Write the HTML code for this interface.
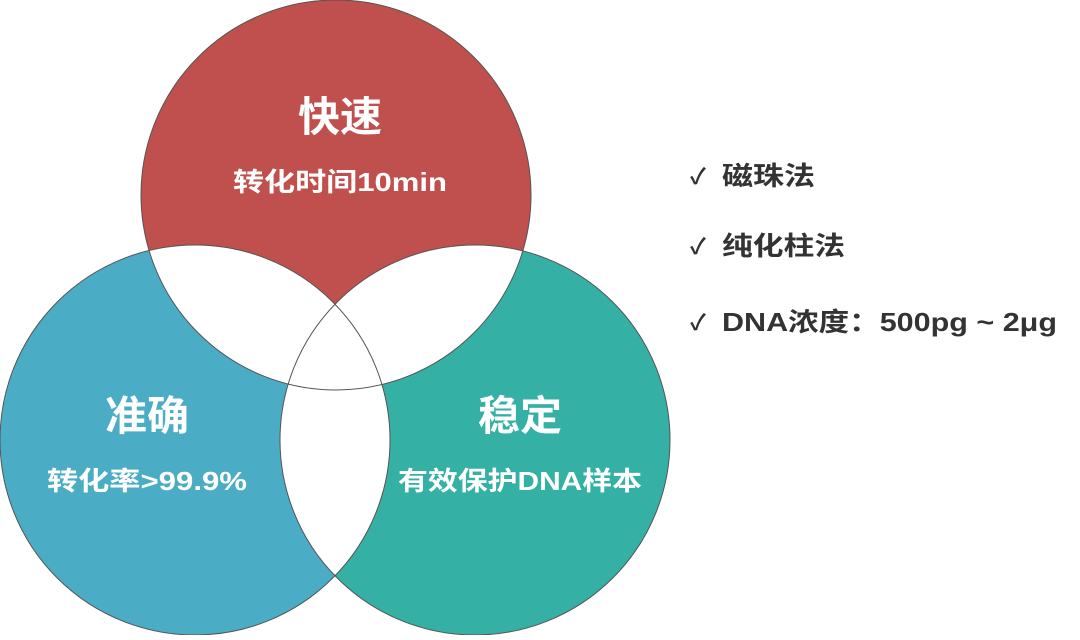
<!DOCTYPE html>
<html><head><meta charset="utf-8"><style>
html,body{margin:0;padding:0;background:#fff;}
body{width:1080px;height:635px;overflow:hidden;}
svg text{font-family:"Liberation Sans","Noto Sans CJK SC",sans-serif;font-weight:bold;}
</style></head><body>
<svg width="1080" height="635" viewBox="0 0 1080 635" xmlns="http://www.w3.org/2000/svg">
<defs>
<clipPath id="cT"><circle cx="336" cy="195" r="195"/></clipPath>
<clipPath id="cL"><circle cx="195" cy="440" r="195"/></clipPath>
</defs>
<circle cx="336" cy="195" r="195" fill="#c0504d"/>
<circle cx="195" cy="440" r="195" fill="#4bacc6"/>
<circle cx="475" cy="440" r="195" fill="#35b0a5"/>
<circle cx="195" cy="440" r="195" fill="#fff" clip-path="url(#cT)"/>
<circle cx="475" cy="440" r="195" fill="#fff" clip-path="url(#cT)"/>
<circle cx="475" cy="440" r="195" fill="#fff" clip-path="url(#cL)"/>
<g fill="none" stroke="#555" stroke-width="1">
<circle cx="336" cy="195" r="195"/>
<circle cx="195" cy="440" r="195"/>
<circle cx="475" cy="440" r="195"/>
</g>
<g fill="#fff">
<text x="298" y="131" font-size="41" textLength="84" lengthAdjust="spacingAndGlyphs">快速</text>
<text x="233" y="191" font-size="26" textLength="214" lengthAdjust="spacingAndGlyphs">转化时间10min</text>
<text x="105" y="430" font-size="41" textLength="84" lengthAdjust="spacingAndGlyphs">准确</text>
<text x="47" y="490" font-size="26" textLength="200" lengthAdjust="spacingAndGlyphs">转化率&gt;99.9%</text>
<text x="478" y="430" font-size="41" textLength="84" lengthAdjust="spacingAndGlyphs">稳定</text>
<text x="398" y="490" font-size="26" textLength="244" lengthAdjust="spacingAndGlyphs">有效保护DNA样本</text>
</g>
<g fill="#333" font-size="26">
<text x="690" y="184" font-size="22">✓</text>
<text x="690" y="254" font-size="22">✓</text>
<text x="690" y="330" font-size="22">✓</text>
<text x="722" y="185" textLength="93" lengthAdjust="spacingAndGlyphs">磁珠法</text>
<text x="722" y="255" textLength="123" lengthAdjust="spacingAndGlyphs">纯化柱法</text>
<text x="722" y="331" textLength="335" lengthAdjust="spacingAndGlyphs">DNA浓度：500pg ~ 2μg</text>
</g>
</svg>
</body></html>
